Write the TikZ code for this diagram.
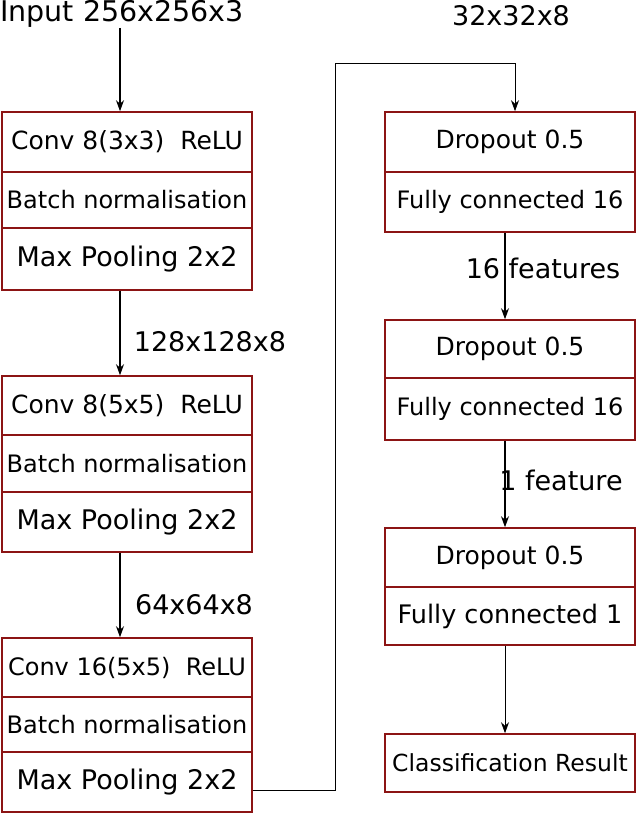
\documentclass[tikz,border=0pt]{standalone}
\usepackage{fontspec}
\setmainfont{DejaVu Sans}
\usetikzlibrary{arrows.meta}
\definecolor{boxred}{RGB}{140,20,20}
\begin{document}
\begin{tikzpicture}[x=1pt,y=-1pt,
  cell/.style={draw=boxred,line width=1.6pt,minimum width=250pt,inner sep=0pt,font=\fontsize{24}{28}\selectfont},
  big/.style={font=\fontsize{27}{30}\selectfont},
  lab/.style={font=\fontsize{27}{30}\selectfont,inner sep=0pt},
  arr/.style={-{Stealth[length=11pt,width=8pt]},line width=1.1pt}]
\useasboundingbox (0,0) rectangle (640,818);
% left column
\node[cell,minimum height=60pt,font=\fontsize{25}{28}\selectfont] (c1a) at (127,142) {Conv 8(3x3)\ \ ReLU};
\node[cell,minimum height=56pt] (c1b) at (127,200) {Batch normalisation};
\node[cell,minimum height=62pt,big] (c1c) at (127,259) {Max Pooling 2x2};
\node[cell,minimum height=59pt,font=\fontsize{25}{28}\selectfont] (c2a) at (127,405.5) {Conv 8(5x5)\ \ ReLU};
\node[cell,minimum height=57pt] (c2b) at (127,463.5) {Batch normalisation};
\node[cell,minimum height=60pt,big] (c2c) at (127,522) {Max Pooling 2x2};
\node[cell,minimum height=59pt] (c3a) at (127,667.5) {Conv 16(5x5)\ \ ReLU};
\node[cell,minimum height=55pt] (c3b) at (127,724.5) {Batch normalisation};
\node[cell,minimum height=60pt,big] (c3c) at (127,782) {Max Pooling 2x2};
% right column
\node[cell,minimum height=60pt,font=\fontsize{25}{28}\selectfont] (r1a) at (510,142) {Dropout 0.5};
\node[cell,minimum height=60pt] (r1b) at (510,202) {Fully connected 16};
\node[cell,minimum height=58pt,font=\fontsize{25}{28}\selectfont] (r2a) at (510,349) {Dropout 0.5};
\node[cell,minimum height=62pt] (r2b) at (510,409) {Fully connected 16};
\node[cell,minimum height=59pt,font=\fontsize{25}{28}\selectfont] (r3a) at (510,557.5) {Dropout 0.5};
\node[cell,minimum height=58pt,font=\fontsize{25.5}{28}\selectfont] (r3b) at (510,616) {Fully connected 1};
\node[cell,minimum height=58pt,font=\fontsize{23.5}{26}\selectfont] (r4) at (510,763) {Classification Result};
% labels
\node[lab,anchor=west,font=\fontsize{28.5}{32}\selectfont] (in) at (0,14) {Input 256x256x3};
\node[lab] (l1) at (210,342) {128x128x8};
\node[lab] (l2) at (194,605) {64x64x8};
\node[lab] (l3) at (511,16) {32x32x8};
\node[lab] (l4) at (543,268) {16 features};
\node[lab] (l5) at (561,480) {1 feature};
% arrows
\coordinate (ti) at (120,28);
\draw[arr] (ti) -- (c1a.north -| ti);
\draw[arr] (c1c.south -| ti) -- (c2a.north -| ti);
\draw[arr] (c2c.south -| ti) -- (c3a.north -| ti);
\coordinate (k1) at (335,790);
\coordinate (k2) at (335,63);
\coordinate (k3) at (515,63);
\draw[arr,line width=0.8pt] (c3c.east |- k1) -- (k1) -- (k2) -- (k3) -- (r1a.north -| k3);
\coordinate (tr) at (505,0);
\draw[arr] (r1b.south -| tr) -- (r2a.north -| tr);
\draw[arr] (r2b.south -| tr) -- (r3a.north -| tr);
\draw[arr,line width=0.8pt] (r3b.south -| tr) -- (r4.north -| tr);
\end{tikzpicture}
\end{document}
